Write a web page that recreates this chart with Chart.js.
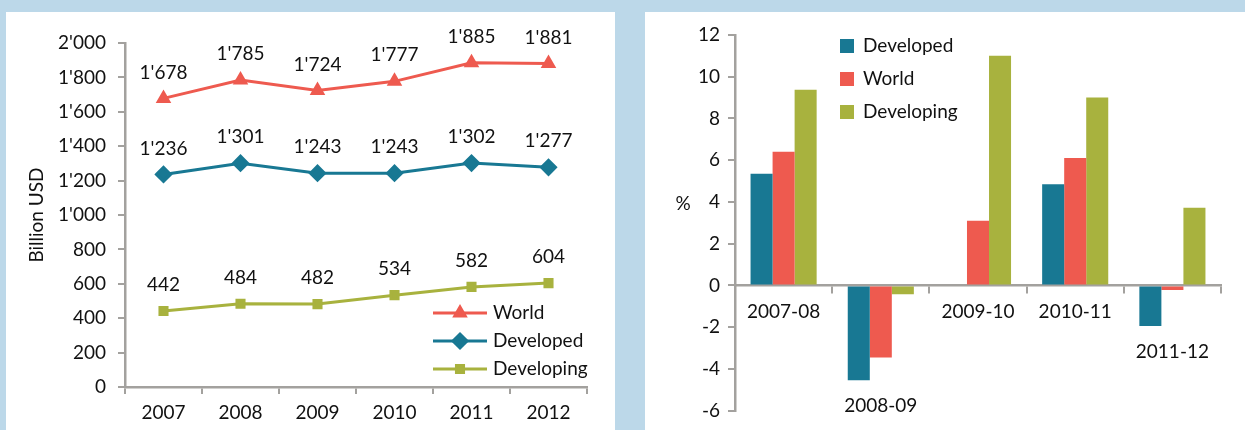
<!DOCTYPE html>
<html>
<head>
<meta charset="utf-8">
<script src="https://cdn.jsdelivr.net/npm/chart.js@4.4.0/dist/chart.umd.min.js"></script>
<style>
  html, body { margin: 0; padding: 0; }
  body { width: 1245px; height: 430px; background: #bcd8e9; position: relative; overflow: hidden; }
  .panel { position: absolute; top: 12px; height: 418px; background: #fff; }
  #p1 { left: 6px; width: 609px; }
  #p2 { left: 645px; width: 600px; }
</style>
</head>
<body>
<div class="panel" id="p1"><canvas id="valueChart" width="609" height="418"></canvas></div>
<div class="panel" id="p2"><canvas id="growthChart" width="600" height="418"></canvas></div>
<script>
// === data ===
const years = ['2007', '2008', '2009', '2010', '2011', '2012'];
const worldValue = [1678, 1785, 1724, 1777, 1885, 1881];
const developedValue = [1236, 1301, 1243, 1243, 1302, 1277];
const developingValue = [442, 484, 482, 534, 582, 604];

const periods = ['2007-08', '2008-09', '2009-10', '2010-11', '2011-12'];
const developedGrowth = [5.35, -4.55, 0, 4.85, -1.95];
const worldGrowth = [6.4, -3.45, 3.1, 6.1, -0.22];
const developingGrowth = [9.38, -0.43, 11.0, 9.0, 3.72];

const RED = '#ee5a4f', TEAL = '#187893', OLIVE = '#a8b23e', AXIS = '#a3a19e';
const FONT = 'Lato, "Open Sans", sans-serif';
const SIZE = 19;
const fontSpec = { family: FONT, size: SIZE };

Chart.defaults.font.family = FONT;
Chart.defaults.font.size = SIZE;
Chart.defaults.color = '#111';
Chart.defaults.animation = false;

const fmt = v => String(v).replace(/\B(?=(\d{3})+(?!\d))/g, "'");

// === Line Chart (Billion USD) ===
const lineLabels = {
  id: 'lineLabels',
  afterDatasetsDraw(chart) {
    const c = chart.ctx;
    c.save();
    c.font = SIZE + 'px ' + FONT;
    c.fillStyle = '#111';
    c.textAlign = 'center';
    c.textBaseline = 'middle';
    chart.data.datasets.forEach((ds, i) => {
      chart.getDatasetMeta(i).data.forEach((pt, j) => {
        c.fillText(fmt(ds.data[j]), pt.x, pt.y - 26);
      });
    });
    // legend
    chart.data.datasets.forEach((ds, i) => {
      const y = 301 + i * 28;
      c.strokeStyle = ds.borderColor;
      c.lineWidth = 3;
      c.beginPath(); c.moveTo(427, y); c.lineTo(481, y); c.stroke();
      c.fillStyle = ds.borderColor;
      Chart.helpers.drawPoint(c, { pointStyle: ds.pointStyle, radius: ds.pointRadius, borderWidth: 1, rotation: 0 }, 454, y);
      c.fillStyle = '#111';
      c.textAlign = 'left';
      c.fillText(ds.label, 487, y);
    });
    c.restore();
  }
};

new Chart(document.getElementById('valueChart'), {
  type: 'line',
  data: {
    labels: years,
    datasets: [
      { label: 'World', data: worldValue, borderColor: RED, backgroundColor: RED, pointStyle: 'triangle', pointRadius: 6, borderWidth: 3 },
      { label: 'Developed', data: developedValue, borderColor: TEAL, backgroundColor: TEAL, pointStyle: 'rectRot', pointRadius: 7, borderWidth: 3 },
      { label: 'Developing', data: developingValue, borderColor: OLIVE, backgroundColor: OLIVE, pointStyle: 'rect', pointRadius: 5, borderWidth: 3 }
    ]
  },
  options: {
    responsive: false,
    layout: { padding: { top: 31, right: 28, left: 0, bottom: 0 } },
    plugins: { legend: { display: false }, tooltip: { enabled: false } },
    scales: {
      x: {
        offset: true,
        grid: { offset: true, drawOnChartArea: false, tickLength: 7, color: AXIS, lineWidth: 2 },
        border: { color: AXIS, width: 2.5 },
        ticks: { padding: 7, font: fontSpec },
        afterFit: s => { s.height = 43; }
      },
      y: {
        min: 0, max: 2000,
        ticks: { stepSize: 200, padding: 12, callback: v => fmt(v), font: fontSpec },
        grid: { drawOnChartArea: false, tickLength: 7, color: AXIS, lineWidth: 2 },
        border: { color: AXIS, width: 2.5 },
        title: { display: true, text: 'Billion USD', font: fontSpec, padding: { top: 19, bottom: 0 } },
        afterFit: s => { s.width = 119; }
      }
    }
  },
  plugins: [lineLabels]
});

// === Bar Chart (%) ===
const barLabels = {
  id: 'barLabels',
  afterDatasetsDraw(chart) {
    const c = chart.ctx;
    const xs = chart.scales.x, ys = chart.scales.y;
    c.save();
    c.font = SIZE + 'px ' + FONT;
    c.fillStyle = '#111';
    c.textAlign = 'center';
    c.textBaseline = 'middle';
    periods.forEach((p, j) => {
      const low = Math.min(0, ...chart.data.datasets.map(ds => ds.data[j]));
      c.fillText(p, xs.getPixelForValue(j), ys.getPixelForValue(low) + 26);
    });
    c.fillText('%', 38, 192);
    // legend
    chart.data.datasets.forEach((ds, i) => {
      const y = 34 + i * 33;
      c.fillStyle = ds.backgroundColor;
      c.fillRect(195, y - 7, 14, 14);
      c.fillStyle = '#111';
      c.textAlign = 'left';
      c.fillText(ds.label, 218, y);
    });
    c.restore();
  }
};

new Chart(document.getElementById('growthChart'), {
  type: 'bar',
  data: {
    labels: periods,
    datasets: [
      { label: 'Developed', data: developedGrowth, backgroundColor: TEAL },
      { label: 'World', data: worldGrowth, backgroundColor: RED },
      { label: 'Developing', data: developingGrowth, backgroundColor: OLIVE }
    ]
  },
  options: {
    responsive: false,
    layout: { padding: { top: 23, right: 24, left: 0, bottom: 17 } },
    datasets: { bar: { categoryPercentage: 0.68, barPercentage: 1.0 } },
    plugins: { legend: { display: false }, tooltip: { enabled: false } },
    scales: {
      x: {
        position: { y: 0 },
        grid: { offset: true, drawOnChartArea: false, tickLength: 7, color: AXIS, lineWidth: 2 },
        border: { color: AXIS, width: 2.5 },
        ticks: { display: false }
      },
      y: {
        min: -6, max: 12,
        ticks: { stepSize: 2, padding: 8, font: fontSpec },
        grid: { drawOnChartArea: false, tickLength: 7, color: AXIS, lineWidth: 2 },
        border: { color: AXIS, width: 2.5 },
        afterFit: s => { s.width = 90; }
      }
    }
  },
  plugins: [barLabels]
});
</script>
</body>
</html>
